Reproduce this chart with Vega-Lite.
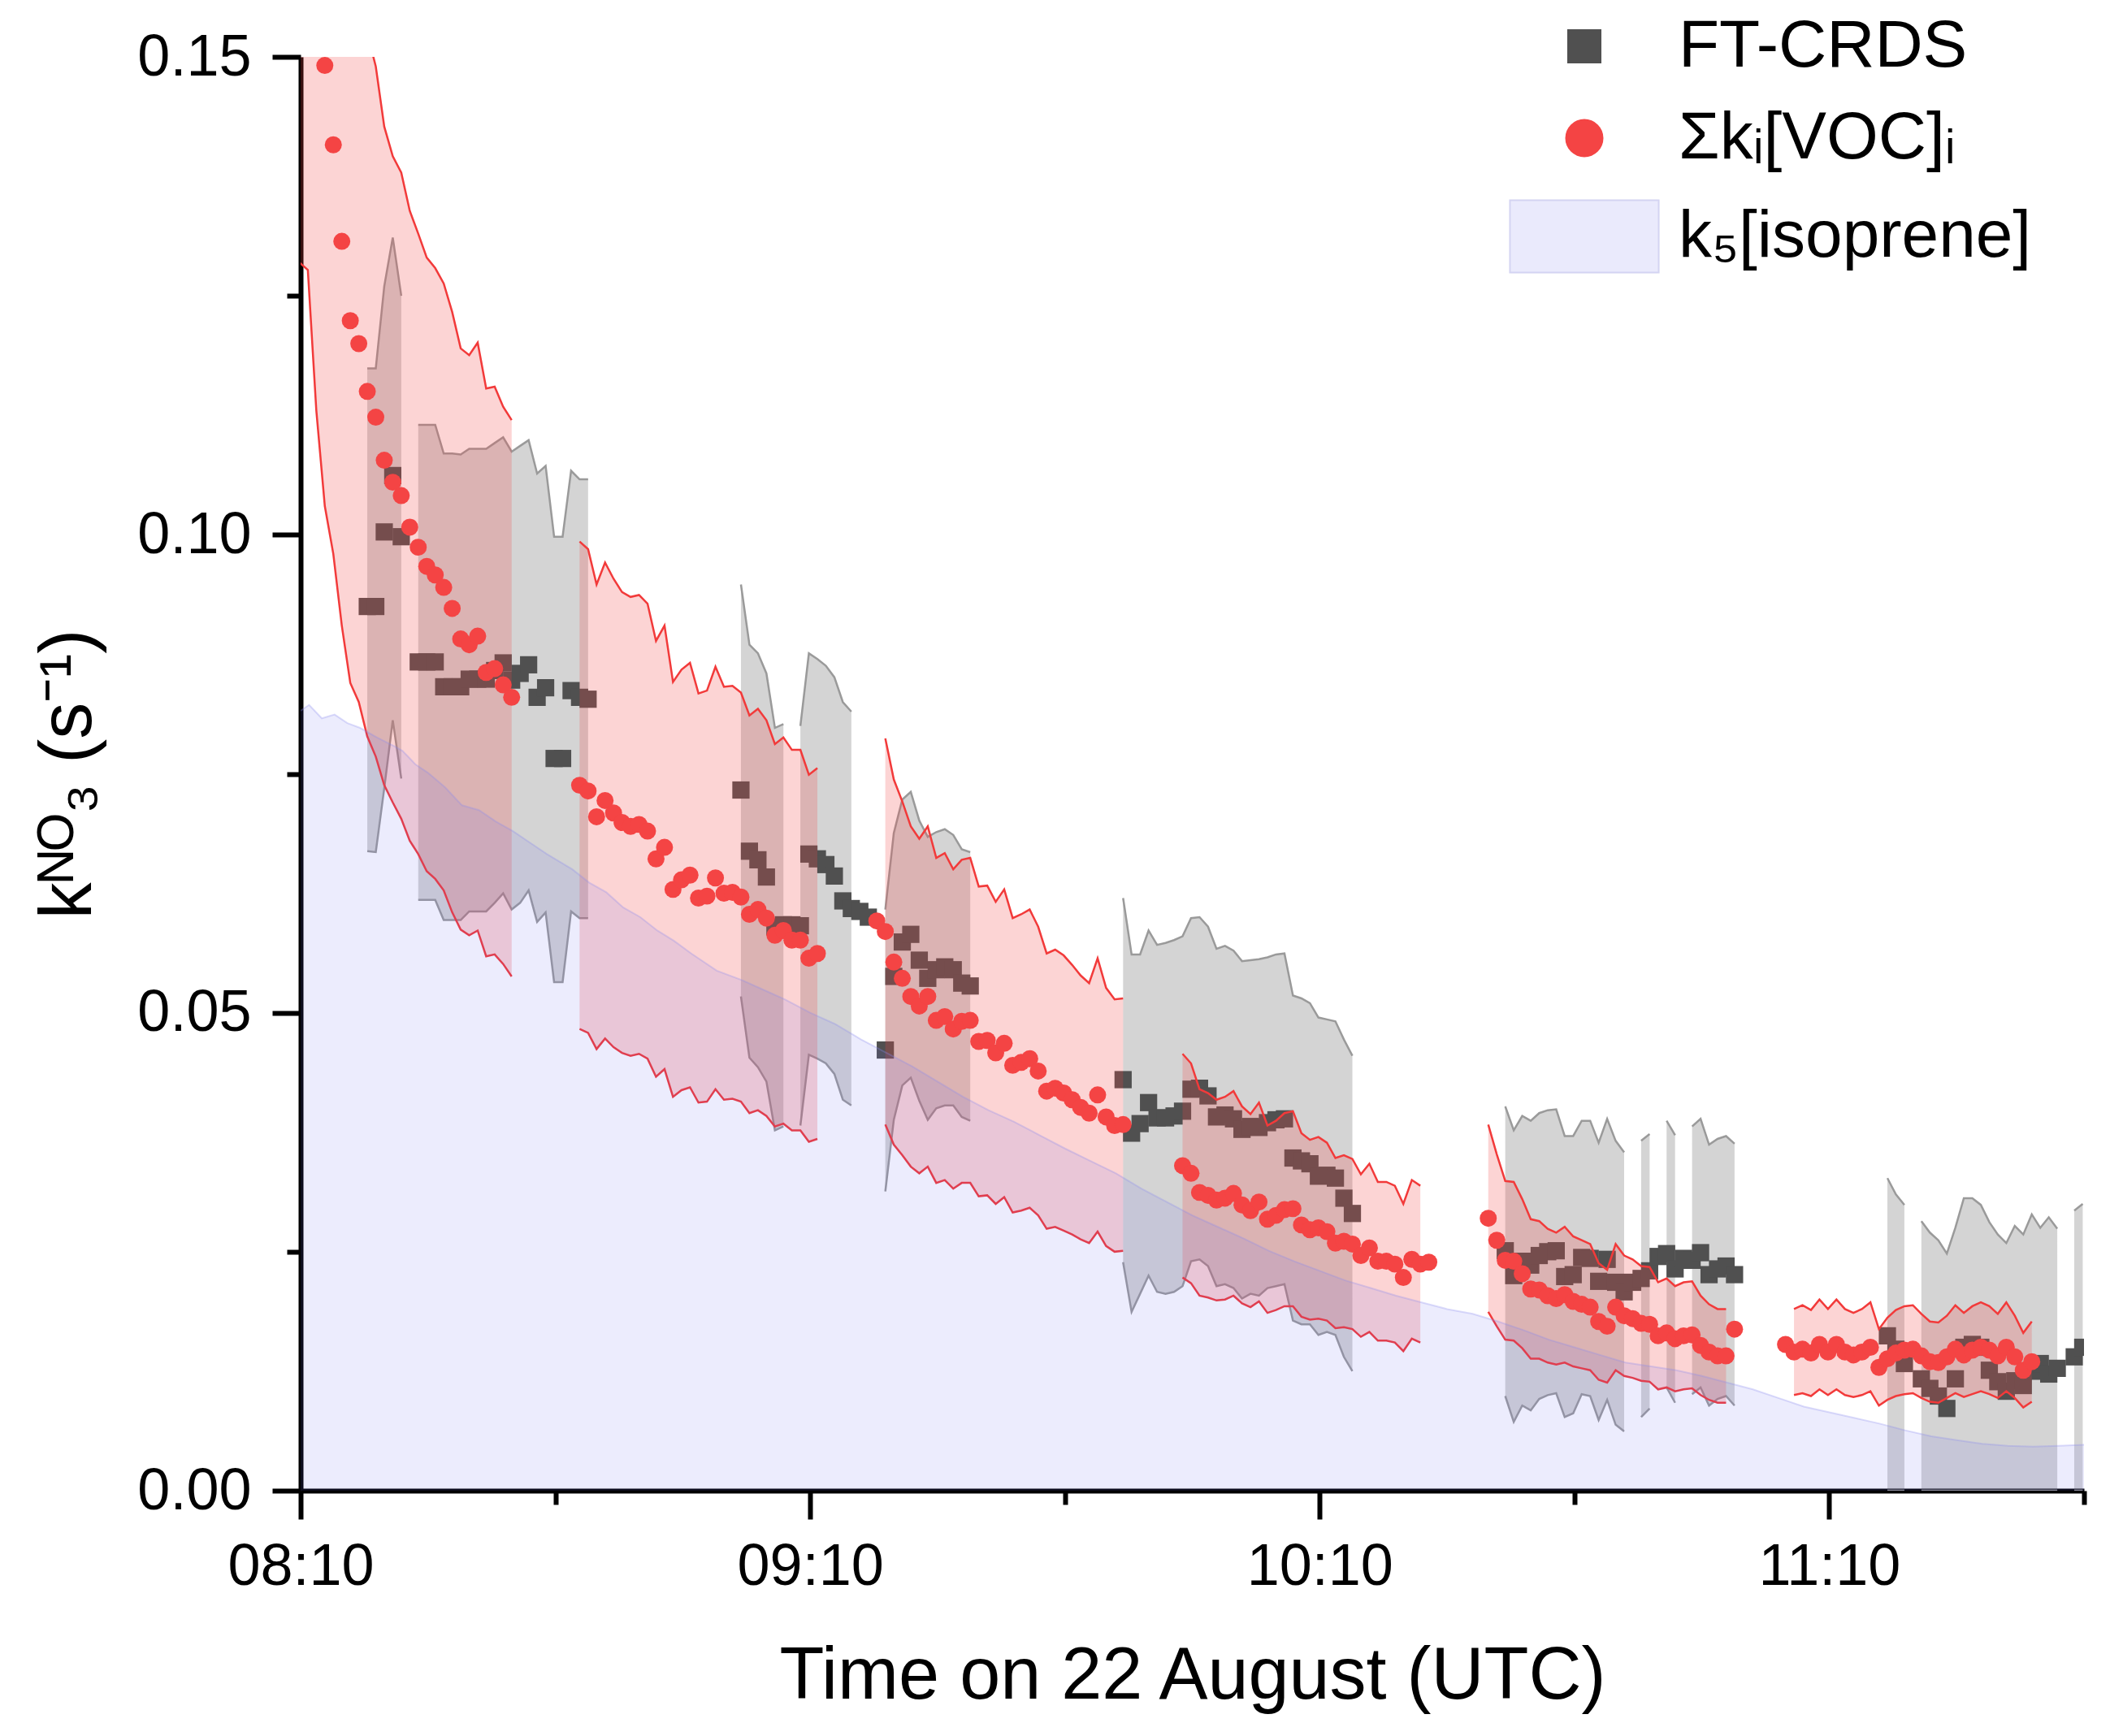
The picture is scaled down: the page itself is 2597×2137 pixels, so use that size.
{
  "$schema": "https://vega.github.io/schema/vega-lite/v6.json",
  "description": "NO3 reactivity: FT-CRDS vs summed VOC reactivity and isoprene contribution, 22 August.",
  "width": 2195,
  "height": 1765,
  "autosize": "none",
  "padding": {"left": 370, "top": 70, "right": 32, "bottom": 302},
  "background": "white",
  "config": {
    "view": {"stroke": null},
    "font": "Liberation Sans",
    "axis": {
      "grid": false,
      "domainColor": "black",
      "domainWidth": 6,
      "tickColor": "black",
      "tickWidth": 6,
      "labelFont": "Liberation Sans",
      "labelFontSize": 72,
      "labelColor": "black",
      "labelLimit": 0,
      "titleFont": "Liberation Sans",
      "titleFontSize": 90,
      "titleFontWeight": "normal",
      "titleColor": "black"
    }
  },
  "datasets": {
    "ft": [
      {"time": "2019-08-22T08:17:51", "v": 0.0925, "lo": 0.0669, "hi": 0.1174, "seg": "A"},
      {"time": "2019-08-22T08:18:51", "v": 0.0925, "lo": 0.0668, "hi": 0.1174, "seg": "A"},
      {"time": "2019-08-22T08:19:51", "v": 0.1003, "lo": 0.0735, "hi": 0.1260, "seg": "A"},
      {"time": "2019-08-22T08:20:51", "v": 0.1062, "lo": 0.0806, "hi": 0.1311, "seg": "A"},
      {"time": "2019-08-22T08:21:51", "v": 0.0998, "lo": 0.0745, "hi": 0.1250, "seg": "A"},
      {"time": "2019-08-22T08:23:51", "v": 0.0867, "lo": 0.0618, "hi": 0.1115, "seg": "B"},
      {"time": "2019-08-22T08:24:51", "v": 0.0867, "lo": 0.0618, "hi": 0.1115, "seg": "B"},
      {"time": "2019-08-22T08:25:51", "v": 0.0867, "lo": 0.0618, "hi": 0.1115, "seg": "B"},
      {"time": "2019-08-22T08:26:51", "v": 0.0841, "lo": 0.0597, "hi": 0.1085, "seg": "B"},
      {"time": "2019-08-22T08:27:51", "v": 0.0841, "lo": 0.0597, "hi": 0.1085, "seg": "B"},
      {"time": "2019-08-22T08:28:51", "v": 0.0841, "lo": 0.0597, "hi": 0.1084, "seg": "B"},
      {"time": "2019-08-22T08:29:51", "v": 0.0849, "lo": 0.0606, "hi": 0.1090, "seg": "B"},
      {"time": "2019-08-22T08:30:51", "v": 0.0849, "lo": 0.0606, "hi": 0.1090, "seg": "B"},
      {"time": "2019-08-22T08:31:51", "v": 0.0849, "lo": 0.0606, "hi": 0.1090, "seg": "B"},
      {"time": "2019-08-22T08:32:51", "v": 0.0858, "lo": 0.0615, "hi": 0.1096, "seg": "B"},
      {"time": "2019-08-22T08:33:51", "v": 0.0866, "lo": 0.0625, "hi": 0.1102, "seg": "B"},
      {"time": "2019-08-22T08:34:51", "v": 0.0848, "lo": 0.0608, "hi": 0.1087, "seg": "B"},
      {"time": "2019-08-22T08:35:51", "v": 0.0855, "lo": 0.0615, "hi": 0.1093, "seg": "B"},
      {"time": "2019-08-22T08:36:51", "v": 0.0864, "lo": 0.0628, "hi": 0.1099, "seg": "B"},
      {"time": "2019-08-22T08:37:51", "v": 0.0830, "lo": 0.0595, "hi": 0.1064, "seg": "B"},
      {"time": "2019-08-22T08:38:51", "v": 0.0840, "lo": 0.0605, "hi": 0.1072, "seg": "B"},
      {"time": "2019-08-22T08:39:51", "v": 0.0766, "lo": 0.0532, "hi": 0.0998, "seg": "B"},
      {"time": "2019-08-22T08:40:51", "v": 0.0766, "lo": 0.0532, "hi": 0.0998, "seg": "B"},
      {"time": "2019-08-22T08:41:51", "v": 0.0837, "lo": 0.0606, "hi": 0.1067, "seg": "B"},
      {"time": "2019-08-22T08:42:51", "v": 0.0830, "lo": 0.0599, "hi": 0.1058, "seg": "B"},
      {"time": "2019-08-22T08:43:51", "v": 0.0828, "lo": 0.0599, "hi": 0.1058, "seg": "B"},
      {"time": "2019-08-22T09:01:51", "v": 0.0733, "lo": 0.0517, "hi": 0.0948, "seg": "C1"},
      {"time": "2019-08-22T09:02:51", "v": 0.0669, "lo": 0.0453, "hi": 0.0885, "seg": "C1"},
      {"time": "2019-08-22T09:03:51", "v": 0.0660, "lo": 0.0443, "hi": 0.0876, "seg": "C1"},
      {"time": "2019-08-22T09:04:51", "v": 0.0642, "lo": 0.0428, "hi": 0.0855, "seg": "C1"},
      {"time": "2019-08-22T09:05:51", "v": 0.0590, "lo": 0.0377, "hi": 0.0798, "seg": "C1"},
      {"time": "2019-08-22T09:06:51", "v": 0.0592, "lo": 0.0381, "hi": 0.0802, "seg": "C1"},
      {"time": "2019-08-22T09:07:51", "v": 0.0592},
      {"time": "2019-08-22T09:08:51", "v": 0.0591, "lo": 0.0382, "hi": 0.0800, "seg": "C2"},
      {"time": "2019-08-22T09:09:51", "v": 0.0666, "lo": 0.0456, "hi": 0.0876, "seg": "C2"},
      {"time": "2019-08-22T09:10:51", "v": 0.0661, "lo": 0.0452, "hi": 0.0870, "seg": "C2"},
      {"time": "2019-08-22T09:11:51", "v": 0.0655, "lo": 0.0447, "hi": 0.0863, "seg": "C2"},
      {"time": "2019-08-22T09:12:51", "v": 0.0643, "lo": 0.0436, "hi": 0.0851, "seg": "C2"},
      {"time": "2019-08-22T09:13:51", "v": 0.0617, "lo": 0.0409, "hi": 0.0825, "seg": "C2"},
      {"time": "2019-08-22T09:14:51", "v": 0.0609, "lo": 0.0403, "hi": 0.0815, "seg": "C2"},
      {"time": "2019-08-22T09:15:51", "v": 0.0606},
      {"time": "2019-08-22T09:16:51", "v": 0.0600},
      {"time": "2019-08-22T09:18:51", "v": 0.0461, "lo": 0.0313, "hi": 0.0608, "seg": "D"},
      {"time": "2019-08-22T09:19:51", "v": 0.0538, "lo": 0.0388, "hi": 0.0688, "seg": "D"},
      {"time": "2019-08-22T09:20:51", "v": 0.0574, "lo": 0.0424, "hi": 0.0723, "seg": "D"},
      {"time": "2019-08-22T09:21:51", "v": 0.0582, "lo": 0.0432, "hi": 0.0731, "seg": "D"},
      {"time": "2019-08-22T09:22:51", "v": 0.0555, "lo": 0.0408, "hi": 0.0701, "seg": "D"},
      {"time": "2019-08-22T09:23:51", "v": 0.0536, "lo": 0.0388, "hi": 0.0684, "seg": "D"},
      {"time": "2019-08-22T09:24:51", "v": 0.0545, "lo": 0.0400, "hi": 0.0689, "seg": "D"},
      {"time": "2019-08-22T09:25:51", "v": 0.0548, "lo": 0.0403, "hi": 0.0692, "seg": "D"},
      {"time": "2019-08-22T09:26:51", "v": 0.0545, "lo": 0.0403, "hi": 0.0686, "seg": "D"},
      {"time": "2019-08-22T09:27:51", "v": 0.0531, "lo": 0.0391, "hi": 0.0671, "seg": "D"},
      {"time": "2019-08-22T09:28:51", "v": 0.0528, "lo": 0.0387, "hi": 0.0668, "seg": "D"},
      {"time": "2019-08-22T09:46:51", "v": 0.0430, "lo": 0.0239, "hi": 0.0620, "seg": "E"},
      {"time": "2019-08-22T09:47:51", "v": 0.0374, "lo": 0.0187, "hi": 0.0561, "seg": "E"},
      {"time": "2019-08-22T09:48:51", "v": 0.0384, "lo": 0.0206, "hi": 0.0561, "seg": "E"},
      {"time": "2019-08-22T09:49:51", "v": 0.0406, "lo": 0.0225, "hi": 0.0586, "seg": "E"},
      {"time": "2019-08-22T09:50:51", "v": 0.0390, "lo": 0.0208, "hi": 0.0571, "seg": "E"},
      {"time": "2019-08-22T09:51:51", "v": 0.0390, "lo": 0.0206, "hi": 0.0573, "seg": "E"},
      {"time": "2019-08-22T09:52:51", "v": 0.0392, "lo": 0.0208, "hi": 0.0576, "seg": "E"},
      {"time": "2019-08-22T09:53:51", "v": 0.0397, "lo": 0.0214, "hi": 0.0580, "seg": "E"},
      {"time": "2019-08-22T09:54:51", "v": 0.0420, "lo": 0.0240, "hi": 0.0599, "seg": "E"},
      {"time": "2019-08-22T09:55:51", "v": 0.0421, "lo": 0.0242, "hi": 0.0600, "seg": "E"},
      {"time": "2019-08-22T09:56:51", "v": 0.0413, "lo": 0.0235, "hi": 0.0590, "seg": "E"},
      {"time": "2019-08-22T09:57:51", "v": 0.0391, "lo": 0.0214, "hi": 0.0567, "seg": "E"},
      {"time": "2019-08-22T09:58:51", "v": 0.0393, "lo": 0.0216, "hi": 0.0570, "seg": "E"},
      {"time": "2019-08-22T09:59:51", "v": 0.0389, "lo": 0.0212, "hi": 0.0565, "seg": "E"},
      {"time": "2019-08-22T10:00:51", "v": 0.0378, "lo": 0.0201, "hi": 0.0554, "seg": "E"},
      {"time": "2019-08-22T10:01:51", "v": 0.0381, "lo": 0.0206, "hi": 0.0555, "seg": "E"},
      {"time": "2019-08-22T10:02:51", "v": 0.0380, "lo": 0.0204, "hi": 0.0556, "seg": "E"},
      {"time": "2019-08-22T10:03:51", "v": 0.0385, "lo": 0.0212, "hi": 0.0558, "seg": "E"},
      {"time": "2019-08-22T10:04:51", "v": 0.0388, "lo": 0.0214, "hi": 0.0561, "seg": "E"},
      {"time": "2019-08-22T10:05:51", "v": 0.0389, "lo": 0.0216, "hi": 0.0562, "seg": "E"},
      {"time": "2019-08-22T10:06:51", "v": 0.0348, "lo": 0.0178, "hi": 0.0518, "seg": "E"},
      {"time": "2019-08-22T10:07:51", "v": 0.0345, "lo": 0.0174, "hi": 0.0515, "seg": "E"},
      {"time": "2019-08-22T10:08:51", "v": 0.0342, "lo": 0.0174, "hi": 0.0510, "seg": "E"},
      {"time": "2019-08-22T10:09:51", "v": 0.0329, "lo": 0.0163, "hi": 0.0495, "seg": "E"},
      {"time": "2019-08-22T10:10:51", "v": 0.0330, "lo": 0.0166, "hi": 0.0493, "seg": "E"},
      {"time": "2019-08-22T10:11:51", "v": 0.0327, "lo": 0.0163, "hi": 0.0491, "seg": "E"},
      {"time": "2019-08-22T10:12:51", "v": 0.0306, "lo": 0.0140, "hi": 0.0472, "seg": "E"},
      {"time": "2019-08-22T10:13:51", "v": 0.0290, "lo": 0.0125, "hi": 0.0455, "seg": "E"},
      {"time": "2019-08-22T10:31:51", "v": 0.0251, "lo": 0.0099, "hi": 0.0402, "seg": "F1"},
      {"time": "2019-08-22T10:32:51", "v": 0.0225, "lo": 0.0072, "hi": 0.0377, "seg": "F1"},
      {"time": "2019-08-22T10:33:51", "v": 0.0240, "lo": 0.0089, "hi": 0.0392, "seg": "F1"},
      {"time": "2019-08-22T10:34:51", "v": 0.0236, "lo": 0.0084, "hi": 0.0387, "seg": "F1"},
      {"time": "2019-08-22T10:35:51", "v": 0.0246, "lo": 0.0096, "hi": 0.0395, "seg": "F1"},
      {"time": "2019-08-22T10:36:51", "v": 0.0250, "lo": 0.0100, "hi": 0.0398, "seg": "F1"},
      {"time": "2019-08-22T10:37:51", "v": 0.0251, "lo": 0.0102, "hi": 0.0399, "seg": "F1"},
      {"time": "2019-08-22T10:38:51", "v": 0.0224, "lo": 0.0077, "hi": 0.0371, "seg": "F1"},
      {"time": "2019-08-22T10:39:51", "v": 0.0226, "lo": 0.0081, "hi": 0.0371, "seg": "F1"},
      {"time": "2019-08-22T10:40:51", "v": 0.0244, "lo": 0.0101, "hi": 0.0387, "seg": "F1"},
      {"time": "2019-08-22T10:41:51", "v": 0.0243, "lo": 0.0099, "hi": 0.0387, "seg": "F1"},
      {"time": "2019-08-22T10:42:51", "v": 0.0219, "lo": 0.0074, "hi": 0.0364, "seg": "F1"},
      {"time": "2019-08-22T10:43:51", "v": 0.0242, "lo": 0.0095, "hi": 0.0389, "seg": "F1"},
      {"time": "2019-08-22T10:44:51", "v": 0.0218, "lo": 0.0069, "hi": 0.0366, "seg": "F1"},
      {"time": "2019-08-22T10:45:51", "v": 0.0208, "lo": 0.0062, "hi": 0.0354, "seg": "F1"},
      {"time": "2019-08-22T10:46:51", "v": 0.0218},
      {"time": "2019-08-22T10:47:51", "v": 0.0222, "lo": 0.0077, "hi": 0.0366, "seg": "F2"},
      {"time": "2019-08-22T10:48:51", "v": 0.0230, "lo": 0.0086, "hi": 0.0373, "seg": "F2"},
      {"time": "2019-08-22T10:49:51", "v": 0.0245},
      {"time": "2019-08-22T10:50:51", "v": 0.0248, "lo": 0.0108, "hi": 0.0387, "seg": "F3"},
      {"time": "2019-08-22T10:51:51", "v": 0.0232, "lo": 0.0092, "hi": 0.0372, "seg": "F3"},
      {"time": "2019-08-22T10:52:51", "v": 0.0243},
      {"time": "2019-08-22T10:53:51", "v": 0.0241, "lo": 0.0101, "hi": 0.0381, "seg": "F4"},
      {"time": "2019-08-22T10:54:51", "v": 0.0249, "lo": 0.0108, "hi": 0.0389, "seg": "F4"},
      {"time": "2019-08-22T10:55:51", "v": 0.0226, "lo": 0.0089, "hi": 0.0362, "seg": "F4"},
      {"time": "2019-08-22T10:56:51", "v": 0.0232, "lo": 0.0096, "hi": 0.0368, "seg": "F4"},
      {"time": "2019-08-22T10:57:51", "v": 0.0235, "lo": 0.0099, "hi": 0.0371, "seg": "F4"},
      {"time": "2019-08-22T10:58:51", "v": 0.0226, "lo": 0.0089, "hi": 0.0363, "seg": "F4"},
      {"time": "2019-08-22T11:16:51", "v": 0.0162, "lo": 0, "hi": 0.0327, "seg": "G1"},
      {"time": "2019-08-22T11:17:51", "v": 0.0148, "lo": 0, "hi": 0.0310, "seg": "G1"},
      {"time": "2019-08-22T11:18:51", "v": 0.0133, "lo": 0, "hi": 0.0299, "seg": "G1"},
      {"time": "2019-08-22T11:20:51", "v": 0.0117, "lo": 0, "hi": 0.0282, "seg": "G2"},
      {"time": "2019-08-22T11:21:51", "v": 0.0107, "lo": 0, "hi": 0.0270, "seg": "G2"},
      {"time": "2019-08-22T11:22:51", "v": 0.0099, "lo": 0, "hi": 0.0262, "seg": "G2"},
      {"time": "2019-08-22T11:23:51", "v": 0.0086, "lo": 0, "hi": 0.0248, "seg": "G2"},
      {"time": "2019-08-22T11:24:51", "v": 0.0117, "lo": 0, "hi": 0.0275, "seg": "G2"},
      {"time": "2019-08-22T11:25:51", "v": 0.0150, "lo": 0, "hi": 0.0306, "seg": "G2"},
      {"time": "2019-08-22T11:26:51", "v": 0.0153, "lo": 0, "hi": 0.0306, "seg": "G2"},
      {"time": "2019-08-22T11:27:51", "v": 0.0150, "lo": 0, "hi": 0.0299, "seg": "G2"},
      {"time": "2019-08-22T11:28:51", "v": 0.0126, "lo": 0, "hi": 0.0281, "seg": "G2"},
      {"time": "2019-08-22T11:29:51", "v": 0.0114, "lo": 0, "hi": 0.0268, "seg": "G2"},
      {"time": "2019-08-22T11:30:51", "v": 0.0104, "lo": 0, "hi": 0.0259, "seg": "G2"},
      {"time": "2019-08-22T11:31:51", "v": 0.0115, "lo": 0, "hi": 0.0277, "seg": "G2"},
      {"time": "2019-08-22T11:32:51", "v": 0.0110, "lo": 0, "hi": 0.0268, "seg": "G2"},
      {"time": "2019-08-22T11:33:51", "v": 0.0125, "lo": 0, "hi": 0.0289, "seg": "G2"},
      {"time": "2019-08-22T11:34:51", "v": 0.0133, "lo": 0, "hi": 0.0275, "seg": "G2"},
      {"time": "2019-08-22T11:35:51", "v": 0.0122, "lo": 0, "hi": 0.0286, "seg": "G2"},
      {"time": "2019-08-22T11:36:51", "v": 0.0128, "lo": 0, "hi": 0.0274, "seg": "G2"},
      {"time": "2019-08-22T11:38:51", "v": 0.0140, "lo": 0, "hi": 0.0293, "seg": "G3"},
      {"time": "2019-08-22T11:39:51", "v": 0.0150, "lo": 0, "hi": 0.0300, "seg": "G3"}
    ],
    "voc": [
      {"time": "2019-08-22T08:09:51", "v": 0.190, "lo": 0.1285, "hi": 0.255, "seg": "1"},
      {"time": "2019-08-22T08:10:51", "v": 0.185, "lo": 0.1277, "hi": 0.249, "seg": "1"},
      {"time": "2019-08-22T08:11:51", "v": 0.165, "lo": 0.1130, "hi": 0.222, "seg": "1"},
      {"time": "2019-08-22T08:12:51", "v": 0.1491, "lo": 0.1030, "hi": 0.2005, "seg": "1"},
      {"time": "2019-08-22T08:13:51", "v": 0.1408, "lo": 0.0980, "hi": 0.1894, "seg": "1"},
      {"time": "2019-08-22T08:14:51", "v": 0.1307, "lo": 0.0905, "hi": 0.1758, "seg": "1"},
      {"time": "2019-08-22T08:15:51", "v": 0.1224, "lo": 0.0845, "hi": 0.1646, "seg": "1"},
      {"time": "2019-08-22T08:16:51", "v": 0.1200, "lo": 0.0825, "hi": 0.1614, "seg": "1"},
      {"time": "2019-08-22T08:17:51", "v": 0.1150, "lo": 0.0789, "hi": 0.1525, "seg": "1"},
      {"time": "2019-08-22T08:18:51", "v": 0.1123, "lo": 0.0768, "hi": 0.1490, "seg": "1"},
      {"time": "2019-08-22T08:19:51", "v": 0.1078, "lo": 0.0738, "hi": 0.1427, "seg": "1"},
      {"time": "2019-08-22T08:20:51", "v": 0.1055, "lo": 0.0720, "hi": 0.1396, "seg": "1"},
      {"time": "2019-08-22T08:21:51", "v": 0.1041, "lo": 0.0703, "hi": 0.1379, "seg": "1"},
      {"time": "2019-08-22T08:22:51", "v": 0.1008, "lo": 0.0680, "hi": 0.1339, "seg": "1"},
      {"time": "2019-08-22T08:23:51", "v": 0.0987, "lo": 0.0666, "hi": 0.1315, "seg": "1"},
      {"time": "2019-08-22T08:24:51", "v": 0.0967, "lo": 0.0648, "hi": 0.1290, "seg": "1"},
      {"time": "2019-08-22T08:25:51", "v": 0.0958, "lo": 0.0640, "hi": 0.1279, "seg": "1"},
      {"time": "2019-08-22T08:26:51", "v": 0.0945, "lo": 0.0628, "hi": 0.1263, "seg": "1"},
      {"time": "2019-08-22T08:27:51", "v": 0.0923, "lo": 0.0605, "hi": 0.1233, "seg": "1"},
      {"time": "2019-08-22T08:28:51", "v": 0.0891, "lo": 0.0587, "hi": 0.1195, "seg": "1"},
      {"time": "2019-08-22T08:29:51", "v": 0.0885, "lo": 0.0581, "hi": 0.1188, "seg": "1"},
      {"time": "2019-08-22T08:30:51", "v": 0.0894, "lo": 0.0586, "hi": 0.1201, "seg": "1"},
      {"time": "2019-08-22T08:31:51", "v": 0.0856, "lo": 0.0559, "hi": 0.1153, "seg": "1"},
      {"time": "2019-08-22T08:32:51", "v": 0.0860, "lo": 0.0561, "hi": 0.1155, "seg": "1"},
      {"time": "2019-08-22T08:33:51", "v": 0.0843, "lo": 0.0551, "hi": 0.1134, "seg": "1"},
      {"time": "2019-08-22T08:34:51", "v": 0.0830, "lo": 0.0538, "hi": 0.1120, "seg": "1"},
      {"time": "2019-08-22T08:42:51", "v": 0.0738, "lo": 0.0483, "hi": 0.0993, "seg": "2"},
      {"time": "2019-08-22T08:43:51", "v": 0.0732, "lo": 0.0479, "hi": 0.0985, "seg": "2"},
      {"time": "2019-08-22T08:44:51", "v": 0.0705, "lo": 0.0462, "hi": 0.0948, "seg": "2"},
      {"time": "2019-08-22T08:45:51", "v": 0.0722, "lo": 0.0473, "hi": 0.0971, "seg": "2"},
      {"time": "2019-08-22T08:46:51", "v": 0.0709, "lo": 0.0464, "hi": 0.0954, "seg": "2"},
      {"time": "2019-08-22T08:47:51", "v": 0.0699, "lo": 0.0458, "hi": 0.0940, "seg": "2"},
      {"time": "2019-08-22T08:48:51", "v": 0.0695, "lo": 0.0455, "hi": 0.0935, "seg": "2"},
      {"time": "2019-08-22T08:49:51", "v": 0.0697, "lo": 0.0457, "hi": 0.0937, "seg": "2"},
      {"time": "2019-08-22T08:50:51", "v": 0.0690, "lo": 0.0452, "hi": 0.0928, "seg": "2"},
      {"time": "2019-08-22T08:51:51", "v": 0.0661, "lo": 0.0433, "hi": 0.0889, "seg": "2"},
      {"time": "2019-08-22T08:52:51", "v": 0.0673, "lo": 0.0441, "hi": 0.0905, "seg": "2"},
      {"time": "2019-08-22T08:53:51", "v": 0.0629, "lo": 0.0412, "hi": 0.0846, "seg": "2"},
      {"time": "2019-08-22T08:54:51", "v": 0.0639, "lo": 0.0419, "hi": 0.0859, "seg": "2"},
      {"time": "2019-08-22T08:55:51", "v": 0.0644, "lo": 0.0422, "hi": 0.0866, "seg": "2"},
      {"time": "2019-08-22T08:56:51", "v": 0.0620, "lo": 0.0406, "hi": 0.0834, "seg": "2"},
      {"time": "2019-08-22T08:57:51", "v": 0.0622, "lo": 0.0407, "hi": 0.0837, "seg": "2"},
      {"time": "2019-08-22T08:58:51", "v": 0.0641, "lo": 0.0420, "hi": 0.0862, "seg": "2"},
      {"time": "2019-08-22T08:59:51", "v": 0.0625, "lo": 0.0409, "hi": 0.0841, "seg": "2"},
      {"time": "2019-08-22T09:00:51", "v": 0.0626, "lo": 0.0410, "hi": 0.0842, "seg": "2"},
      {"time": "2019-08-22T09:01:51", "v": 0.0621, "lo": 0.0407, "hi": 0.0835, "seg": "2"},
      {"time": "2019-08-22T09:02:51", "v": 0.0603, "lo": 0.0395, "hi": 0.0811, "seg": "2"},
      {"time": "2019-08-22T09:03:51", "v": 0.0608, "lo": 0.0398, "hi": 0.0818, "seg": "2"},
      {"time": "2019-08-22T09:04:51", "v": 0.0599, "lo": 0.0392, "hi": 0.0806, "seg": "2"},
      {"time": "2019-08-22T09:05:51", "v": 0.0581, "lo": 0.0381, "hi": 0.0781, "seg": "2"},
      {"time": "2019-08-22T09:06:51", "v": 0.0586, "lo": 0.0384, "hi": 0.0788, "seg": "2"},
      {"time": "2019-08-22T09:07:51", "v": 0.0576, "lo": 0.0377, "hi": 0.0775, "seg": "2"},
      {"time": "2019-08-22T09:08:51", "v": 0.0576, "lo": 0.0377, "hi": 0.0775, "seg": "2"},
      {"time": "2019-08-22T09:09:51", "v": 0.0557, "lo": 0.0365, "hi": 0.0749, "seg": "2"},
      {"time": "2019-08-22T09:10:51", "v": 0.0562, "lo": 0.0368, "hi": 0.0756, "seg": "2"},
      {"time": "2019-08-22T09:17:51", "v": 0.0596},
      {"time": "2019-08-22T09:18:51", "v": 0.0585, "lo": 0.0383, "hi": 0.0787, "seg": "3"},
      {"time": "2019-08-22T09:19:51", "v": 0.0553, "lo": 0.0362, "hi": 0.0744, "seg": "3"},
      {"time": "2019-08-22T09:20:51", "v": 0.0536, "lo": 0.0351, "hi": 0.0721, "seg": "3"},
      {"time": "2019-08-22T09:21:51", "v": 0.0517, "lo": 0.0339, "hi": 0.0695, "seg": "3"},
      {"time": "2019-08-22T09:22:51", "v": 0.0507, "lo": 0.0332, "hi": 0.0682, "seg": "3"},
      {"time": "2019-08-22T09:23:51", "v": 0.0517, "lo": 0.0339, "hi": 0.0695, "seg": "3"},
      {"time": "2019-08-22T09:24:51", "v": 0.0492, "lo": 0.0322, "hi": 0.0662, "seg": "3"},
      {"time": "2019-08-22T09:25:51", "v": 0.0496, "lo": 0.0325, "hi": 0.0667, "seg": "3"},
      {"time": "2019-08-22T09:26:51", "v": 0.0483, "lo": 0.0316, "hi": 0.0650, "seg": "3"},
      {"time": "2019-08-22T09:27:51", "v": 0.0491, "lo": 0.0322, "hi": 0.0660, "seg": "3"},
      {"time": "2019-08-22T09:28:51", "v": 0.0492, "lo": 0.0322, "hi": 0.0662, "seg": "3"},
      {"time": "2019-08-22T09:29:51", "v": 0.0470, "lo": 0.0308, "hi": 0.0632, "seg": "3"},
      {"time": "2019-08-22T09:30:51", "v": 0.0471, "lo": 0.0309, "hi": 0.0633, "seg": "3"},
      {"time": "2019-08-22T09:31:51", "v": 0.0458, "lo": 0.0300, "hi": 0.0616, "seg": "3"},
      {"time": "2019-08-22T09:32:51", "v": 0.0468, "lo": 0.0307, "hi": 0.0629, "seg": "3"},
      {"time": "2019-08-22T09:33:51", "v": 0.0445, "lo": 0.0291, "hi": 0.0599, "seg": "3"},
      {"time": "2019-08-22T09:34:51", "v": 0.0448, "lo": 0.0293, "hi": 0.0603, "seg": "3"},
      {"time": "2019-08-22T09:35:51", "v": 0.0452, "lo": 0.0296, "hi": 0.0608, "seg": "3"},
      {"time": "2019-08-22T09:36:51", "v": 0.0439, "lo": 0.0288, "hi": 0.0590, "seg": "3"},
      {"time": "2019-08-22T09:37:51", "v": 0.0418, "lo": 0.0274, "hi": 0.0562, "seg": "3"},
      {"time": "2019-08-22T09:38:51", "v": 0.0421, "lo": 0.0276, "hi": 0.0566, "seg": "3"},
      {"time": "2019-08-22T09:39:51", "v": 0.0416, "lo": 0.0272, "hi": 0.0560, "seg": "3"},
      {"time": "2019-08-22T09:40:51", "v": 0.0409, "lo": 0.0268, "hi": 0.0550, "seg": "3"},
      {"time": "2019-08-22T09:41:51", "v": 0.0401, "lo": 0.0263, "hi": 0.0539, "seg": "3"},
      {"time": "2019-08-22T09:42:51", "v": 0.0395, "lo": 0.0259, "hi": 0.0531, "seg": "3"},
      {"time": "2019-08-22T09:43:51", "v": 0.0414, "lo": 0.0271, "hi": 0.0557, "seg": "3"},
      {"time": "2019-08-22T09:44:51", "v": 0.0391, "lo": 0.0256, "hi": 0.0526, "seg": "3"},
      {"time": "2019-08-22T09:45:51", "v": 0.0382, "lo": 0.0250, "hi": 0.0514, "seg": "3"},
      {"time": "2019-08-22T09:46:51", "v": 0.0383, "lo": 0.0251, "hi": 0.0515, "seg": "3"},
      {"time": "2019-08-22T09:53:51", "v": 0.0340, "lo": 0.0223, "hi": 0.0457, "seg": "4"},
      {"time": "2019-08-22T09:54:51", "v": 0.0332, "lo": 0.0217, "hi": 0.0447, "seg": "4"},
      {"time": "2019-08-22T09:55:51", "v": 0.0312, "lo": 0.0204, "hi": 0.0420, "seg": "4"},
      {"time": "2019-08-22T09:56:51", "v": 0.0309, "lo": 0.0202, "hi": 0.0416, "seg": "4"},
      {"time": "2019-08-22T09:57:51", "v": 0.0304, "lo": 0.0199, "hi": 0.0409, "seg": "4"},
      {"time": "2019-08-22T09:58:51", "v": 0.0306, "lo": 0.0200, "hi": 0.0412, "seg": "4"},
      {"time": "2019-08-22T09:59:51", "v": 0.0311, "lo": 0.0204, "hi": 0.0418, "seg": "4"},
      {"time": "2019-08-22T10:00:51", "v": 0.0299, "lo": 0.0196, "hi": 0.0402, "seg": "4"},
      {"time": "2019-08-22T10:01:51", "v": 0.0293, "lo": 0.0192, "hi": 0.0394, "seg": "4"},
      {"time": "2019-08-22T10:02:51", "v": 0.0302, "lo": 0.0198, "hi": 0.0406, "seg": "4"},
      {"time": "2019-08-22T10:03:51", "v": 0.0284, "lo": 0.0186, "hi": 0.0382, "seg": "4"},
      {"time": "2019-08-22T10:04:51", "v": 0.0288, "lo": 0.0189, "hi": 0.0387, "seg": "4"},
      {"time": "2019-08-22T10:05:51", "v": 0.0294, "lo": 0.0193, "hi": 0.0395, "seg": "4"},
      {"time": "2019-08-22T10:06:51", "v": 0.0295, "lo": 0.0193, "hi": 0.0397, "seg": "4"},
      {"time": "2019-08-22T10:07:51", "v": 0.0278, "lo": 0.0182, "hi": 0.0374, "seg": "4"},
      {"time": "2019-08-22T10:08:51", "v": 0.0273, "lo": 0.0179, "hi": 0.0367, "seg": "4"},
      {"time": "2019-08-22T10:09:51", "v": 0.0275, "lo": 0.0180, "hi": 0.0370, "seg": "4"},
      {"time": "2019-08-22T10:10:51", "v": 0.0271, "lo": 0.0178, "hi": 0.0364, "seg": "4"},
      {"time": "2019-08-22T10:11:51", "v": 0.0259, "lo": 0.0170, "hi": 0.0348, "seg": "4"},
      {"time": "2019-08-22T10:12:51", "v": 0.0261, "lo": 0.0171, "hi": 0.0351, "seg": "4"},
      {"time": "2019-08-22T10:13:51", "v": 0.0258, "lo": 0.0169, "hi": 0.0347, "seg": "4"},
      {"time": "2019-08-22T10:14:51", "v": 0.0246, "lo": 0.0161, "hi": 0.0331, "seg": "4"},
      {"time": "2019-08-22T10:15:51", "v": 0.0254, "lo": 0.0166, "hi": 0.0342, "seg": "4"},
      {"time": "2019-08-22T10:16:51", "v": 0.0240, "lo": 0.0157, "hi": 0.0323, "seg": "4"},
      {"time": "2019-08-22T10:17:51", "v": 0.0240, "lo": 0.0157, "hi": 0.0323, "seg": "4"},
      {"time": "2019-08-22T10:18:51", "v": 0.0237, "lo": 0.0155, "hi": 0.0319, "seg": "4"},
      {"time": "2019-08-22T10:19:51", "v": 0.0223, "lo": 0.0146, "hi": 0.0300, "seg": "4"},
      {"time": "2019-08-22T10:20:51", "v": 0.0242, "lo": 0.0159, "hi": 0.0325, "seg": "4"},
      {"time": "2019-08-22T10:21:51", "v": 0.0237, "lo": 0.0155, "hi": 0.0319, "seg": "4"},
      {"time": "2019-08-22T10:22:51", "v": 0.0239},
      {"time": "2019-08-22T10:29:51", "v": 0.0285, "lo": 0.0187, "hi": 0.0383, "seg": "5"},
      {"time": "2019-08-22T10:30:51", "v": 0.0262, "lo": 0.0172, "hi": 0.0352, "seg": "5"},
      {"time": "2019-08-22T10:31:51", "v": 0.0241, "lo": 0.0158, "hi": 0.0324, "seg": "5"},
      {"time": "2019-08-22T10:32:51", "v": 0.0240, "lo": 0.0157, "hi": 0.0323, "seg": "5"},
      {"time": "2019-08-22T10:33:51", "v": 0.0227, "lo": 0.0149, "hi": 0.0305, "seg": "5"},
      {"time": "2019-08-22T10:34:51", "v": 0.0211, "lo": 0.0138, "hi": 0.0284, "seg": "5"},
      {"time": "2019-08-22T10:35:51", "v": 0.0210, "lo": 0.0138, "hi": 0.0282, "seg": "5"},
      {"time": "2019-08-22T10:36:51", "v": 0.0204, "lo": 0.0134, "hi": 0.0274, "seg": "5"},
      {"time": "2019-08-22T10:37:51", "v": 0.0201, "lo": 0.0132, "hi": 0.0270, "seg": "5"},
      {"time": "2019-08-22T10:38:51", "v": 0.0205, "lo": 0.0134, "hi": 0.0276, "seg": "5"},
      {"time": "2019-08-22T10:39:51", "v": 0.0198, "lo": 0.0130, "hi": 0.0266, "seg": "5"},
      {"time": "2019-08-22T10:40:51", "v": 0.0195, "lo": 0.0128, "hi": 0.0262, "seg": "5"},
      {"time": "2019-08-22T10:41:51", "v": 0.0192, "lo": 0.0126, "hi": 0.0258, "seg": "5"},
      {"time": "2019-08-22T10:42:51", "v": 0.0177, "lo": 0.0116, "hi": 0.0238, "seg": "5"},
      {"time": "2019-08-22T10:43:51", "v": 0.0172, "lo": 0.0113, "hi": 0.0231, "seg": "5"},
      {"time": "2019-08-22T10:44:51", "v": 0.0192, "lo": 0.0126, "hi": 0.0258, "seg": "5"},
      {"time": "2019-08-22T10:45:51", "v": 0.0183, "lo": 0.0120, "hi": 0.0246, "seg": "5"},
      {"time": "2019-08-22T10:46:51", "v": 0.0180, "lo": 0.0118, "hi": 0.0242, "seg": "5"},
      {"time": "2019-08-22T10:47:51", "v": 0.0175, "lo": 0.0115, "hi": 0.0235, "seg": "5"},
      {"time": "2019-08-22T10:48:51", "v": 0.0174, "lo": 0.0114, "hi": 0.0234, "seg": "5"},
      {"time": "2019-08-22T10:49:51", "v": 0.0162, "lo": 0.0106, "hi": 0.0218, "seg": "5"},
      {"time": "2019-08-22T10:50:51", "v": 0.0165, "lo": 0.0108, "hi": 0.0222, "seg": "5"},
      {"time": "2019-08-22T10:51:51", "v": 0.0159, "lo": 0.0104, "hi": 0.0214, "seg": "5"},
      {"time": "2019-08-22T10:52:51", "v": 0.0162, "lo": 0.0106, "hi": 0.0218, "seg": "5"},
      {"time": "2019-08-22T10:53:51", "v": 0.0163, "lo": 0.0107, "hi": 0.0219, "seg": "5"},
      {"time": "2019-08-22T10:54:51", "v": 0.0152, "lo": 0.0100, "hi": 0.0204, "seg": "5"},
      {"time": "2019-08-22T10:55:51", "v": 0.0145, "lo": 0.0095, "hi": 0.0195, "seg": "5"},
      {"time": "2019-08-22T10:56:51", "v": 0.0141, "lo": 0.0092, "hi": 0.0190, "seg": "5"},
      {"time": "2019-08-22T10:57:51", "v": 0.0141, "lo": 0.0092, "hi": 0.0190, "seg": "5"},
      {"time": "2019-08-22T10:58:51", "v": 0.0169},
      {"time": "2019-08-22T11:04:51", "v": 0.0153},
      {"time": "2019-08-22T11:05:51", "v": 0.0145, "lo": 0.0100, "hi": 0.0190, "seg": "6"},
      {"time": "2019-08-22T11:06:51", "v": 0.0148, "lo": 0.0102, "hi": 0.0194, "seg": "6"},
      {"time": "2019-08-22T11:07:51", "v": 0.0144, "lo": 0.0099, "hi": 0.0189, "seg": "6"},
      {"time": "2019-08-22T11:08:51", "v": 0.0153, "lo": 0.0106, "hi": 0.0200, "seg": "6"},
      {"time": "2019-08-22T11:09:51", "v": 0.0145, "lo": 0.0100, "hi": 0.0190, "seg": "6"},
      {"time": "2019-08-22T11:10:51", "v": 0.0153, "lo": 0.0106, "hi": 0.0200, "seg": "6"},
      {"time": "2019-08-22T11:11:51", "v": 0.0145, "lo": 0.0100, "hi": 0.0190, "seg": "6"},
      {"time": "2019-08-22T11:12:51", "v": 0.0142, "lo": 0.0098, "hi": 0.0186, "seg": "6"},
      {"time": "2019-08-22T11:13:51", "v": 0.0145, "lo": 0.0100, "hi": 0.0190, "seg": "6"},
      {"time": "2019-08-22T11:14:51", "v": 0.0150, "lo": 0.0104, "hi": 0.0197, "seg": "6"},
      {"time": "2019-08-22T11:15:51", "v": 0.0129, "lo": 0.0089, "hi": 0.0169, "seg": "6"},
      {"time": "2019-08-22T11:16:51", "v": 0.0138, "lo": 0.0095, "hi": 0.0181, "seg": "6"},
      {"time": "2019-08-22T11:17:51", "v": 0.0144, "lo": 0.0099, "hi": 0.0189, "seg": "6"},
      {"time": "2019-08-22T11:18:51", "v": 0.0147, "lo": 0.0101, "hi": 0.0193, "seg": "6"},
      {"time": "2019-08-22T11:19:51", "v": 0.0148, "lo": 0.0102, "hi": 0.0194, "seg": "6"},
      {"time": "2019-08-22T11:20:51", "v": 0.0141, "lo": 0.0097, "hi": 0.0185, "seg": "6"},
      {"time": "2019-08-22T11:21:51", "v": 0.0135, "lo": 0.0093, "hi": 0.0177, "seg": "6"},
      {"time": "2019-08-22T11:22:51", "v": 0.0134, "lo": 0.0092, "hi": 0.0176, "seg": "6"},
      {"time": "2019-08-22T11:23:51", "v": 0.0140, "lo": 0.0097, "hi": 0.0183, "seg": "6"},
      {"time": "2019-08-22T11:24:51", "v": 0.0148, "lo": 0.0102, "hi": 0.0194, "seg": "6"},
      {"time": "2019-08-22T11:25:51", "v": 0.0142, "lo": 0.0098, "hi": 0.0186, "seg": "6"},
      {"time": "2019-08-22T11:26:51", "v": 0.0147, "lo": 0.0101, "hi": 0.0193, "seg": "6"},
      {"time": "2019-08-22T11:27:51", "v": 0.0150, "lo": 0.0104, "hi": 0.0197, "seg": "6"},
      {"time": "2019-08-22T11:28:51", "v": 0.0147, "lo": 0.0101, "hi": 0.0193, "seg": "6"},
      {"time": "2019-08-22T11:29:51", "v": 0.0141, "lo": 0.0097, "hi": 0.0185, "seg": "6"},
      {"time": "2019-08-22T11:30:51", "v": 0.0150, "lo": 0.0104, "hi": 0.0197, "seg": "6"},
      {"time": "2019-08-22T11:31:51", "v": 0.0140, "lo": 0.0097, "hi": 0.0183, "seg": "6"},
      {"time": "2019-08-22T11:32:51", "v": 0.0126, "lo": 0.0087, "hi": 0.0165, "seg": "6"},
      {"time": "2019-08-22T11:33:51", "v": 0.0135, "lo": 0.0093, "hi": 0.0177, "seg": "6"}
    ],
    "iso": [
      {"time": "2019-08-22T08:10:00", "k": 0.0816},
      {"time": "2019-08-22T08:11:00", "k": 0.0822},
      {"time": "2019-08-22T08:12:30", "k": 0.0808},
      {"time": "2019-08-22T08:14:00", "k": 0.0812},
      {"time": "2019-08-22T08:15:30", "k": 0.0803},
      {"time": "2019-08-22T08:17:00", "k": 0.0798},
      {"time": "2019-08-22T08:19:00", "k": 0.0788},
      {"time": "2019-08-22T08:21:00", "k": 0.0779},
      {"time": "2019-08-22T08:22:00", "k": 0.0774},
      {"time": "2019-08-22T08:23:30", "k": 0.0760},
      {"time": "2019-08-22T08:25:00", "k": 0.0751},
      {"time": "2019-08-22T08:27:00", "k": 0.0736},
      {"time": "2019-08-22T08:29:00", "k": 0.0717},
      {"time": "2019-08-22T08:31:00", "k": 0.0712},
      {"time": "2019-08-22T08:33:00", "k": 0.0700},
      {"time": "2019-08-22T08:35:00", "k": 0.0690},
      {"time": "2019-08-22T08:37:00", "k": 0.0678},
      {"time": "2019-08-22T08:39:00", "k": 0.0666},
      {"time": "2019-08-22T08:42:00", "k": 0.0650},
      {"time": "2019-08-22T08:44:00", "k": 0.0636},
      {"time": "2019-08-22T08:46:00", "k": 0.0626},
      {"time": "2019-08-22T08:48:00", "k": 0.0610},
      {"time": "2019-08-22T08:50:00", "k": 0.0600},
      {"time": "2019-08-22T08:52:00", "k": 0.0586},
      {"time": "2019-08-22T08:54:00", "k": 0.0575},
      {"time": "2019-08-22T08:56:00", "k": 0.0562},
      {"time": "2019-08-22T08:59:00", "k": 0.0544},
      {"time": "2019-08-22T09:02:00", "k": 0.0534},
      {"time": "2019-08-22T09:05:00", "k": 0.0522},
      {"time": "2019-08-22T09:07:00", "k": 0.0514},
      {"time": "2019-08-22T09:10:00", "k": 0.0500},
      {"time": "2019-08-22T09:13:00", "k": 0.0488},
      {"time": "2019-08-22T09:16:00", "k": 0.0472},
      {"time": "2019-08-22T09:19:00", "k": 0.0458},
      {"time": "2019-08-22T09:22:00", "k": 0.0444},
      {"time": "2019-08-22T09:25:00", "k": 0.0428},
      {"time": "2019-08-22T09:28:00", "k": 0.0412},
      {"time": "2019-08-22T09:31:00", "k": 0.0398},
      {"time": "2019-08-22T09:34:00", "k": 0.0386},
      {"time": "2019-08-22T09:37:00", "k": 0.0372},
      {"time": "2019-08-22T09:40:00", "k": 0.0358},
      {"time": "2019-08-22T09:43:00", "k": 0.0345},
      {"time": "2019-08-22T09:46:00", "k": 0.0332},
      {"time": "2019-08-22T09:49:00", "k": 0.0316},
      {"time": "2019-08-22T09:52:00", "k": 0.0302},
      {"time": "2019-08-22T09:55:00", "k": 0.0288},
      {"time": "2019-08-22T09:58:00", "k": 0.0276},
      {"time": "2019-08-22T10:01:00", "k": 0.0264},
      {"time": "2019-08-22T10:04:00", "k": 0.0251},
      {"time": "2019-08-22T10:07:00", "k": 0.0240},
      {"time": "2019-08-22T10:10:00", "k": 0.0230},
      {"time": "2019-08-22T10:13:00", "k": 0.0220},
      {"time": "2019-08-22T10:16:00", "k": 0.0212},
      {"time": "2019-08-22T10:19:00", "k": 0.0204},
      {"time": "2019-08-22T10:22:00", "k": 0.0197},
      {"time": "2019-08-22T10:25:00", "k": 0.0190},
      {"time": "2019-08-22T10:28:00", "k": 0.0185},
      {"time": "2019-08-22T10:31:00", "k": 0.0177},
      {"time": "2019-08-22T10:34:00", "k": 0.0168},
      {"time": "2019-08-22T10:37:00", "k": 0.0158},
      {"time": "2019-08-22T10:40:00", "k": 0.0150},
      {"time": "2019-08-22T10:43:00", "k": 0.0142},
      {"time": "2019-08-22T10:46:00", "k": 0.0134},
      {"time": "2019-08-22T10:49:00", "k": 0.0130},
      {"time": "2019-08-22T10:52:00", "k": 0.0126},
      {"time": "2019-08-22T10:55:00", "k": 0.0120},
      {"time": "2019-08-22T10:58:00", "k": 0.0113},
      {"time": "2019-08-22T11:01:00", "k": 0.0106},
      {"time": "2019-08-22T11:04:00", "k": 0.0097},
      {"time": "2019-08-22T11:07:00", "k": 0.0088},
      {"time": "2019-08-22T11:10:00", "k": 0.0082},
      {"time": "2019-08-22T11:13:00", "k": 0.0076},
      {"time": "2019-08-22T11:16:00", "k": 0.0070},
      {"time": "2019-08-22T11:19:00", "k": 0.0063},
      {"time": "2019-08-22T11:22:00", "k": 0.0057},
      {"time": "2019-08-22T11:25:00", "k": 0.0053},
      {"time": "2019-08-22T11:28:00", "k": 0.0049},
      {"time": "2019-08-22T11:31:00", "k": 0.0047},
      {"time": "2019-08-22T11:34:00", "k": 0.0046},
      {"time": "2019-08-22T11:37:00", "k": 0.0047},
      {"time": "2019-08-22T11:40:00", "k": 0.0048}
    ]
  },
  "encoding": {
    "x": {
      "field": "time",
      "type": "temporal",
      "scale": {
        "domain": [
          {"year": 2019, "month": 8, "date": 22, "hours": 8, "minutes": 10},
          {"year": 2019, "month": 8, "date": 22, "hours": 11, "minutes": 40}
        ]
      },
      "axis": {
        "title": "Time on 22 August (UTC)",
        "values": [
          {"year": 2019, "month": 8, "date": 22, "hours": 8, "minutes": 10},
          {"year": 2019, "month": 8, "date": 22, "hours": 8, "minutes": 40},
          {"year": 2019, "month": 8, "date": 22, "hours": 9, "minutes": 10},
          {"year": 2019, "month": 8, "date": 22, "hours": 9, "minutes": 40},
          {"year": 2019, "month": 8, "date": 22, "hours": 10, "minutes": 10},
          {"year": 2019, "month": 8, "date": 22, "hours": 10, "minutes": 40},
          {"year": 2019, "month": 8, "date": 22, "hours": 11, "minutes": 10},
          {"year": 2019, "month": 8, "date": 22, "hours": 11, "minutes": 40}
        ],
        "labelExpr": "minutes(datum.value) == 10 ? timeFormat(datum.value, '%H:%M') : ''",
        "tickSize": {"condition": {"test": "minutes(datum.value) == 10", "value": 35}, "value": 17},
        "labelPadding": 23,
        "labelLimit": 0,
        "labelFlush": false,
        "labelOverlap": false,
        "titlePadding": 55
      }
    }
  },
  "layer": [
    {
      "data": {"name": "ft"},
      "transform": [{"filter": "datum.seg != null"}],
      "mark": {"type": "area", "color": "#555555", "opacity": 0.25, "clip": true},
      "encoding": {
        "y": {
          "field": "lo",
          "type": "quantitative",
          "scale": {"domain": [0, 0.15], "nice": false},
          "axis": {
            "title": "kᴺᴼ₃ (s⁻¹)",
            "values": [0, 0.025, 0.05, 0.075, 0.1, 0.125, 0.15],
            "labelExpr": "abs(datum.value * 20 - round(datum.value * 20)) < 0.001 ? format(datum.value, '.2f') : ''",
            "tickSize": {"condition": {"test": "abs(datum.value * 20 - round(datum.value * 20)) < 0.001", "value": 35}, "value": 17},
            "labelPadding": 26,
            "titlePadding": 40
          }
        },
        "y2": {"field": "hi"},
        "detail": {"field": "seg"}
      }
    },
    {
      "data": {"name": "ft"},
      "transform": [{"filter": "datum.seg != null"}],
      "mark": {"type": "line", "color": "#9a9a9a", "strokeWidth": 2.5, "clip": true},
      "encoding": {"y": {"field": "hi", "type": "quantitative"}, "detail": {"field": "seg"}}
    },
    {
      "data": {"name": "ft"},
      "transform": [{"filter": "datum.seg != null"}],
      "mark": {"type": "line", "color": "#9a9a9a", "strokeWidth": 2.5, "clip": true},
      "encoding": {"y": {"field": "lo", "type": "quantitative"}, "detail": {"field": "seg"}}
    },
    {
      "data": {"name": "ft"},
      "mark": {"type": "square", "size": 450, "opacity": 1, "filled": true, "clip": true},
      "encoding": {
        "y": {"field": "v", "type": "quantitative"},
        "color": {
          "datum": "FT-CRDS",
          "type": "nominal",
          "scale": {
            "domain": ["FT-CRDS", "Σkᵢ[VOC]ᵢ", "k₅[isoprene]"],
            "range": ["#505050", "#f44444", "#eaeafc"]
          },
          "legend": {
            "title": null,
            "orient": "none",
            "legendX": 1539,
            "legendY": -54,
            "padding": 0,
            "labelFont": "Liberation Sans",
            "labelFontSize": 82,
            "labelColor": "black",
            "labelLimit": 0,
            "labelOffset": 75,
            "rowPadding": 31,
            "symbolSize": 1764,
            "symbolOpacity": 1,
            "encode": {
              "symbols": {
                "update": {
                  "shape": {"signal": "datum.value === 'FT-CRDS' ? 'square' : datum.value === 'k₅[isoprene]' ? 'M-4.36,-2.12H4.36V2.12H-4.36Z' : 'circle'"},
                  "size": {"signal": "datum.value === 'Σkᵢ[VOC]ᵢ' ? 2209 : 1764"},
                  "stroke": {"signal": "datum.value === 'k₅[isoprene]' ? '#d4d4f2' : null"},
                  "strokeWidth": {"value": 2},
                  "opacity": {"value": 1}
                }
              }
            }
          }
        }
      }
    },
    {
      "data": {"name": "voc"},
      "transform": [{"filter": "datum.seg != null"}],
      "mark": {"type": "area", "color": "#f44444", "opacity": 0.23, "clip": true},
      "encoding": {
        "y": {"field": "lo", "type": "quantitative"},
        "y2": {"field": "hi"},
        "detail": {"field": "seg"}
      }
    },
    {
      "data": {"name": "voc"},
      "transform": [{"filter": "datum.seg != null"}],
      "mark": {"type": "line", "color": "#f23a3a", "strokeWidth": 2.5, "clip": true},
      "encoding": {"y": {"field": "hi", "type": "quantitative"}, "detail": {"field": "seg"}}
    },
    {
      "data": {"name": "voc"},
      "transform": [{"filter": "datum.seg != null"}],
      "mark": {"type": "line", "color": "#f23a3a", "strokeWidth": 2.5, "clip": true},
      "encoding": {"y": {"field": "lo", "type": "quantitative"}, "detail": {"field": "seg"}}
    },
    {
      "data": {"name": "iso"},
      "mark": {"type": "area", "color": "#6464f0", "opacity": 0.12, "clip": true},
      "encoding": {"y": {"field": "k", "type": "quantitative"}}
    },
    {
      "data": {"name": "iso"},
      "mark": {"type": "line", "color": "#8c8cf0", "opacity": 0.3, "strokeWidth": 2, "clip": true},
      "encoding": {"y": {"field": "k", "type": "quantitative"}}
    },
    {
      "data": {"name": "voc"},
      "mark": {"type": "circle", "size": 440, "opacity": 1, "clip": true},
      "encoding": {
        "y": {"field": "v", "type": "quantitative"},
        "color": {"datum": "Σkᵢ[VOC]ᵢ", "type": "nominal"}
      }
    }
  ]
}
